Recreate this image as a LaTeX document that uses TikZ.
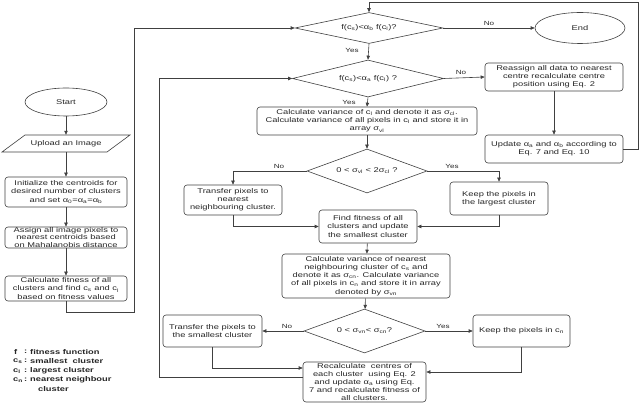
\documentclass[tikz,border=0pt]{standalone}
\usepackage{fontspec}
\setmainfont{Liberation Sans}[FakeStretch=1.35]
\usetikzlibrary{shapes.geometric,arrows.meta,calc}
\begin{document}
\begin{tikzpicture}[x=1pt,y=-1pt,
 every node/.style={font=\fontsize{6.9}{8.2}\selectfont, text=black!85},
 line/.style={draw=black!75, line width=0.6pt},
 arr/.style={line, -{Triangle[length=4pt,width=3.4pt]}},
 box/.style={draw=black!75, line width=0.6pt, rounded corners=3pt, align=center, inner sep=0pt},
 dia/.style={draw=black!75, line width=0.6pt, diamond, inner sep=0pt},
 oval/.style={draw=black!75, line width=0.6pt, ellipse, inner sep=0pt},
 lbl/.style={font=\fontsize{6}{7}\selectfont, inner sep=0pt},
 leg/.style={font=\bfseries\fontsize{6.9}{8}\selectfont, anchor=west, inner sep=0pt}]
\useasboundingbox (0,0) rectangle (640,403);

% left column
\node[oval, minimum width=82pt, minimum height=28pt] (start) at (66,102) {Start};
\draw[line] (2,152)--(25,135)--(130,135)--(107,152)--cycle;
\node[minimum width=100pt, minimum height=17pt, inner sep=0pt] (up) at (66,143.5) {Upload an Image};
\node[box, minimum width=122pt, minimum height=30pt] (init) at (66,192) {Initialize the centroids for\\desired number of clusters\\and set α\textsubscript{0}=α\textsubscript{a}=α\textsubscript{b}};
\node[box, minimum width=122pt, minimum height=21pt, font=\fontsize{6.9}{7.2}\selectfont] (asg) at (66,237.5) {Assign all image pixels to\\nearest centroids based\\on Mahalanobis distance};
\node[box, minimum width=122pt, minimum height=25pt] (cf) at (66,288.5) {Calculate fitness of all\\clusters and find c\textsubscript{s} and c\textsubscript{l}\\based on fitness values};

% main column
\node[dia, minimum width=148pt, minimum height=31pt] (d1) at (369,28) {};
\node (d1t) at (d1) {f(c\textsubscript{s})<α\textsubscript{b} f(c\textsubscript{l})?};
\node[oval, minimum width=90pt, minimum height=31pt] (end) at (580,28) {End};
\node[dia, minimum width=151pt, minimum height=37pt] (d2) at (368,78.5) {};
\node (d2t) at (d2) {f(c\textsubscript{s})<α\textsubscript{a} f(c\textsubscript{l}) ?};
\node[box, minimum width=138pt, minimum height=28pt] (ra) at (554,77) {Reassign all data to nearest\\centre recalculate centre\\position using Eq. 2};
\node[box, minimum width=138pt, minimum height=28pt] (upd) at (554,149) {Update α\textsubscript{a} and α\textsubscript{b} according to\\Eq. 7 and Eq. 10};
\node[box, minimum width=220pt, minimum height=28pt] (cv1) at (367,121) {Calculate variance of c\textsubscript{l} and denote it as σ\textsubscript{cl}.\\Calculate variance of all pixels in c\textsubscript{l} and store it in\\array σ\textsubscript{vl}};
\node[dia, minimum width=120pt, minimum height=44pt] (d3) at (367,171) {};
\node (d3t) at (d3) {0 < σ\textsubscript{vl} < 2σ\textsubscript{cl} ?};
\node[box, minimum width=98pt, minimum height=30pt] (tr1) at (233,200) {Transfer pixels to\\nearest\\neighbouring cluster.};
\node[box, minimum width=98pt, minimum height=33pt] (kp1) at (499,198.5) {Keep the pixels in\\the largest cluster};
\node[box, minimum width=98pt, minimum height=33pt] (ff) at (368,226.5) {Find fitness of all\\clusters and update\\the smallest cluster};
\node[box, minimum width=168pt, minimum height=44pt] (cv2) at (366,276) {Calculate variance of nearest\\neighbouring cluster of c\textsubscript{s} and\\denote it as σ\textsubscript{cn}. Calculate variance\\of all pixels in c\textsubscript{n} and store it in array\\denoted by σ\textsubscript{vn}};
\node[dia, minimum width=121pt, minimum height=44pt] (d4) at (364.5,331) {};
\node (d4t) at (d4) {0 < σ\textsubscript{vn}< σ\textsubscript{cn}?};
\node[box, minimum width=99pt, minimum height=32pt] (tr2) at (212.5,331) {Transfer the pixels to\\the smallest cluster};
\node[box, minimum width=97pt, minimum height=32pt] (kp2) at (521.5,331) {Keep the pixels in c\textsubscript{n}};
\node[box, minimum width=123pt, minimum height=40pt] (rc) at (364.5,382) {Recalculate \ centres of\\each cluster \ using Eq. 2\\and update α\textsubscript{a} using Eq.\\7 and recalculate fitness of\\all clusters.};

% connectors left column
\draw[arr] (start) -- (up);
\draw[arr] (up) -- (init);
\draw[arr] (init) -- (asg);
\draw[arr] (asg) -- (cf);
\coordinate (l1) at (134,312);
\draw[arr] (cf.south) |- (l1) |- (d1.west);

% main connectors
\draw[arr] (d1.east) -- (end.west) node[lbl, pos=0.5, above=2pt] (n1) {No};
\draw[arr] (d1.south) -- (d2.north);
\node[lbl] (y1) at (352,50) {Yes};
\draw[arr] (d2.east) -- (ra.west);
\node[lbl] (n2) at (461,72) {No};
\draw[arr] (ra) -- (upd);
\coordinate (tr) at (638,2);
\draw[arr] (upd.east) -| (tr) -| (d1.north);
\draw[arr] (d2.south) -- (cv1.north);
\node[lbl] (y2) at (349,102) {Yes};
\draw[arr] (cv1) -- (d3);
\draw[arr] (d3.west) -| (tr1.north);
\node[lbl] (n3) at (279,166) {No};
\draw[arr] (d3.east) -| (kp1.north);
\node[lbl] (y3) at (452,166) {Yes};
\draw[arr] (tr1.south) |- (ff.west);
\draw[arr] (kp1.south) |- (ff.east);
\draw[arr] (ff) -- (cv2);
\draw[arr] (cv2) -- (d4);
\draw[arr] (d4.west) -- (tr2.east);
\node[lbl] (n4) at (287,326) {No};
\draw[arr] (d4.east) -- (kp2.west);
\node[lbl] (y4) at (443,326) {Yes};
\draw[arr] (tr2.south) |- ([yshift=14pt]rc.west);
\draw[arr] (kp2.south) |- ([yshift=10pt]rc.east);
\coordinate (l2) at (159,377);
\draw[arr] (rc.west |- l2) -- (l2) |- (d2.west);

% legend
\node[leg] (g1a) at (14,352) {f};
\node[leg] (g1b) at (24,352) {:};
\node[leg] (g1c) at (30,352) {fitness function};
\node[leg] (g2a) at (13,361) {c\textsubscript{s}};
\node[leg] (g2b) at (24,361) {:};
\node[leg] (g2c) at (30,361) {smallest \ cluster};
\node[leg] (g3a) at (13,371) {c\textsubscript{l}};
\node[leg] (g3b) at (24,371) {:};
\node[leg] (g3c) at (30,371) {largest cluster};
\node[leg] (g4a) at (13,380) {c\textsubscript{n}};
\node[leg] (g4b) at (24,380) {:};
\node[leg] (g4c) at (30,380) {nearest neighbour};
\node[leg] (g5c) at (38,389) {cluster};
\end{tikzpicture}
\end{document}
